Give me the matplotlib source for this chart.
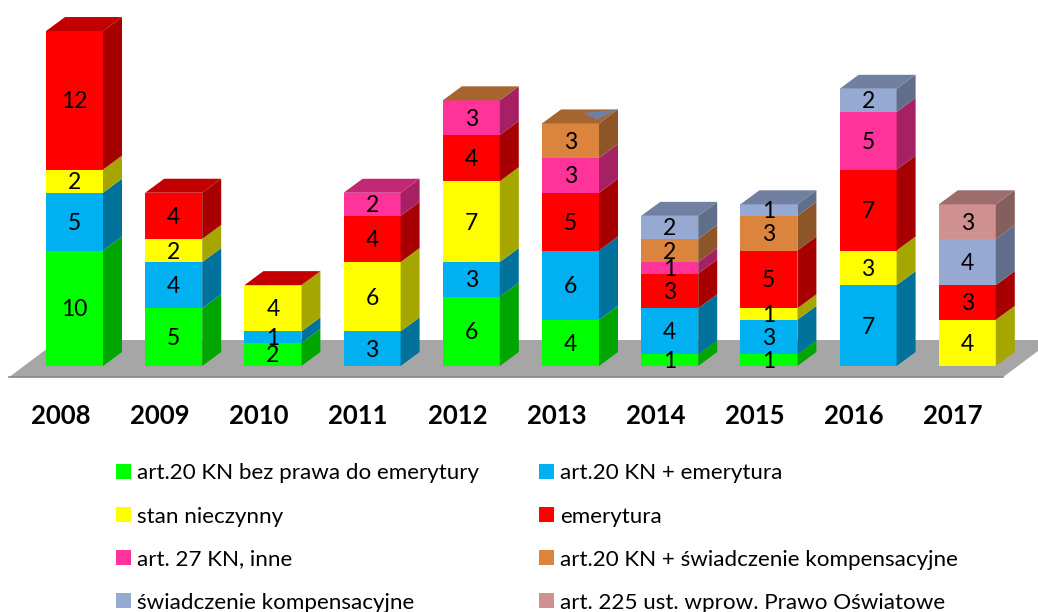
import numpy as np
import matplotlib
matplotlib.use("Agg")
import matplotlib.pyplot as plt
from matplotlib.patches import Polygon, Patch

plt.rcParams['font.family'] = ['Lato', 'DejaVu Sans']

# ==========================
# Data
# ==========================
years = ['2008', '2009', '2010', '2011', '2012', '2013', '2014', '2015', '2016', '2017']

art20_bez = [10, 5, 2, 0, 6, 4, 1, 1, 0, 0]
art20_emer = [5, 4, 1, 3, 3, 6, 4, 3, 7, 0]
nieczynny = [2, 2, 4, 6, 7, 0, 0, 1, 3, 4]
emerytura = [12, 4, 0, 4, 4, 5, 3, 5, 7, 3]
art27 = [0, 0, 0, 2, 3, 3, 1, 0, 5, 0]
art20_swiad = [0, 0, 0, 0, 0, 3, 2, 3, 0, 0]
swiadczenie = [0, 0, 0, 0, 0, 0, 2, 1, 2, 4]
art225 = [0, 0, 0, 0, 0, 0, 0, 0, 0, 3]

series = [art20_bez, art20_emer, nieczynny, emerytura, art27, art20_swiad, swiadczenie, art225]
names = ['art.20 KN bez prawa do emerytury', 'art.20 KN + emerytura', 'stan nieczynny', 'emerytura',
         'art. 27 KN, inne', 'art.20 KN + świadczenie kompensacyjne', 'świadczenie kompensacyjne',
         'art. 225 ust. wprow. Prawo Oświatowe']
colors = ['#00FF00', '#00B0F0', '#FFFF00', '#FF0000', '#FF3399', '#DA843D', '#95A9D2', '#CF9090']

# which series colours the lid of each column (zero height segments show up here)
lid_series = [3, 3, 3, 4, 5, 5, 6, 6, 6, 7]

# ==========================
# Plot setup
# ==========================
px_x = 99.2   # pixels per category
px_y = 11.55  # pixels per unit
bar_w = 57 / px_x
dep_x = 19 / px_x
dep_y = 14 / px_y


def shade(col, k):
    return tuple(c * k for c in matplotlib.colors.to_rgb(col))


fig = plt.figure(figsize=(10.38, 6.12), dpi=100)
ax = fig.add_axes([0, (612 - 378) / 612, 1, 378 / 612])
ax.set_xlim(-74.5 / px_x, (1038 - 74.5) / px_x)
ax.set_ylim(-12 / px_y, 366 / px_y)
for s in ax.spines.values():
    s.set_visible(False)
ax.set_yticks([])

# floor
fl_x0, fl_x1 = -0.66, 9.36
fl_y0, fl_y1 = -0.97, 2.25
fl_dx = 0.5
ax.add_patch(Polygon([(fl_x0, fl_y0), (fl_x1, fl_y0), (fl_x1 + fl_dx, fl_y1), (fl_x0 + fl_dx, fl_y1)],
                     fc='#A6A6A6', ec='none', zorder=1))
ax.plot([fl_x0, fl_x1], [fl_y0, fl_y0], color='#8A8A8A', lw=1.2, zorder=1.5)

# stacked columns, front + side + lid
for i in range(len(years)):
    x0 = i - bar_w / 2
    x1 = i + bar_w / 2
    bottom = 0
    for vals, col in zip(series, colors):
        v = vals[i]
        if v == 0:
            continue
        top = bottom + v
        ax.add_patch(Polygon([(x0, bottom), (x1, bottom), (x1, top), (x0, top)],
                             fc=col, ec='none', zorder=3))
        ax.add_patch(Polygon([(x1, bottom), (x1 + dep_x, bottom + dep_y), (x1 + dep_x, top + dep_y), (x1, top)],
                             fc=shade(col, 0.65), ec='none', zorder=3))
        # -0.13: Lato sits a little high when centred
        ax.text(i, bottom + v / 2 - 0.13, str(v), ha='center', va='center', fontsize=16.5, color='black', zorder=4)
        bottom = top
    lid = colors[lid_series[i]]
    ax.add_patch(Polygon([(x0, bottom), (x1, bottom), (x1 + dep_x, bottom + dep_y), (x0 + dep_x, bottom + dep_y)],
                         fc=shade(lid, 0.76), ec='none', zorder=3))

# small slate sliver on the 2013 lid
i = years.index('2013')
t = sum(vals[i] for vals in series)
ax.add_patch(Polygon([(i + bar_w / 2 - 0.16, t + 0.75 * dep_y), (i + bar_w / 2 + dep_x, t + dep_y),
                      (i + bar_w / 2 - 0.02, t + 0.25 * dep_y)],
                     fc=shade(colors[6], 0.76), ec='none', zorder=3.5))

# year labels sit a bit left of the columns
ax.set_xticks(np.arange(len(years)) - 14 / px_x)
ax.set_xticklabels(years, fontsize=18.5, fontweight='bold')
ax.tick_params(axis='x', length=0, pad=19)

# ==========================
# Legend (columns fill first, so reorder)
# ==========================
order = [0, 2, 4, 6, 1, 3, 5, 7]
handles = [Patch(fc=colors[k], ec='none', label=names[k]) for k in order]
fig.legend(handles=handles, ncols=2, frameon=False, fontsize=16.1,
           loc='upper left', bbox_to_anchor=(112 / 1038, 1 - 459 / 612), borderaxespad=0, borderpad=0.2,
           handlelength=0.64, handleheight=0.64, handletextpad=0.3,
           labelspacing=1.03, columnspacing=2.68)

fig.savefig('out.png', dpi=100)
